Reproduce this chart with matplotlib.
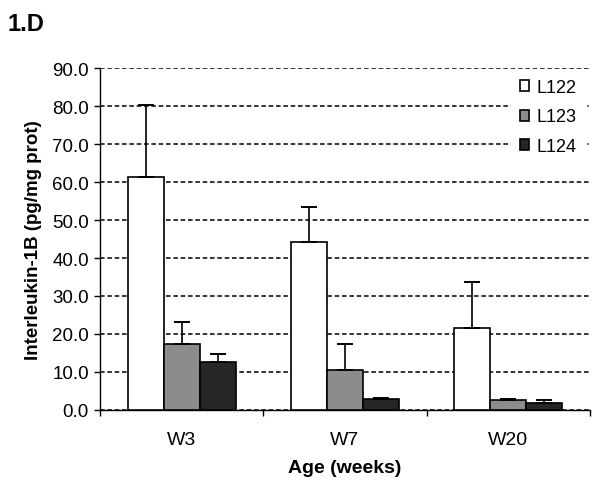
import matplotlib
matplotlib.use("Agg")
import matplotlib.pyplot as plt
import numpy as np

plt.rcParams['font.family'] = ['Liberation Sans', 'DejaVu Sans']

categories = ["W3", "W7", "W20"]
series = ["L122", "L123", "L124"]
means = {
    "L122": [61.2, 44.1, 21.7],
    "L123": [17.4, 10.5, 2.7],
    "L124": [12.5, 2.9, 1.8],
}
upper = {
    "L122": [80.3, 53.5, 33.6],
    "L123": [23.1, 17.3, 2.8],
    "L124": [14.7, 3.1, 2.6],
}
colors = {"L122": "#ffffff", "L123": "#8c8c8c", "L124": "#262626"}
yticks = [0, 10, 20, 30, 40, 50, 60, 70, 80, 90]

fig = plt.figure(figsize=(6.0, 4.85), dpi=100)
ax = fig.add_axes([0.1667, 0.1526, 0.8166, 0.7051])

x = np.arange(len(categories))
w = 0.22
for i, s in enumerate(series):
    pos = x + (i - 1) * w
    m = np.array(means[s])
    err = np.array(upper[s]) - m
    ax.bar(pos, m, width=w, color=colors[s], edgecolor="black", linewidth=1.2,
           label=s, zorder=3)
    ax.errorbar(pos, m, yerr=[np.zeros_like(err), err], fmt="none",
                ecolor="black", elinewidth=1.2, capsize=6, capthick=1.4, zorder=4)

ax.set_ylim(0, 90)
ax.set_xlim(-0.5, len(categories) - 0.5)
ax.set_yticks(yticks)
ax.set_yticklabels([f"{v:.1f}" for v in yticks], fontsize=13.5)
ax.set_xticks(x)
ax.set_xticklabels(categories, fontsize=14)
ax.tick_params(axis='x', which='major', length=0, pad=15)
ax.set_xticks(np.arange(-0.5, len(categories)), minor=True)
ax.tick_params(axis='x', which='minor', length=4, width=1, direction='out')
ax.tick_params(axis='y', length=4, width=1, direction='out', pad=4)

ax.yaxis.grid(True, linestyle=(0, (3, 1.8)), color="black", linewidth=1.1, zorder=0)
ax.set_axisbelow(True)
for sp in ["top", "right"]:
    ax.spines[sp].set_visible(False)
for sp in ["left", "bottom"]:
    ax.spines[sp].set_linewidth(1.0)

ax.set_ylabel("Interleukin-1B (pg/mg prot)", fontsize=13.5, fontweight="bold", labelpad=7)
ax.set_xlabel("Age (weeks)", fontsize=14, fontweight="bold", labelpad=8)

leg = ax.legend(loc="upper right", bbox_to_anchor=(0.995, 1.0), frameon=True,
                fontsize=13, handlelength=0.55, handleheight=0.55, handletextpad=0.4,
                labelspacing=0.7, borderaxespad=0.1, borderpad=0.5)
leg.get_frame().set_edgecolor("white")
leg.get_frame().set_facecolor("white")
leg.get_frame().set_alpha(1.0)
leg.set_zorder(5)

fig.text(0.012, 0.937, "1.D", fontsize=17, fontweight="bold")

fig.savefig("out.png", dpi=100)
